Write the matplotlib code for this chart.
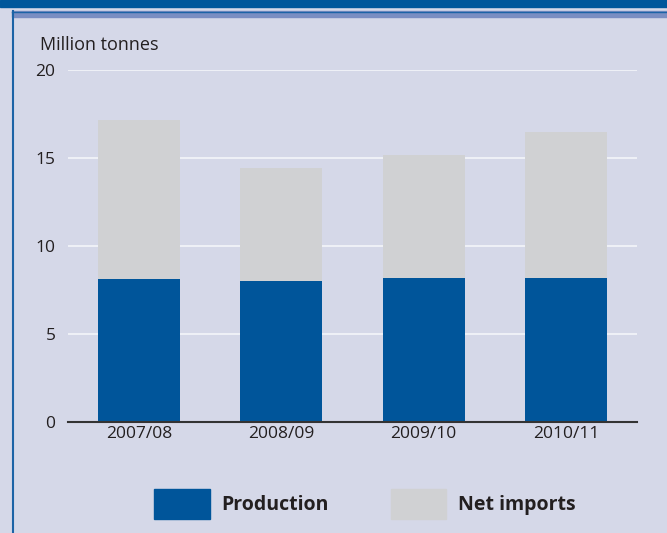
import matplotlib.pyplot as plt
import matplotlib.patches as mpatches
import numpy as np

years = ["2007/08", "2008/09", "2009/10", "2010/11"]
production = [8.1, 8.0, 8.2, 8.2]
net_imports = [9.05, 6.45, 6.95, 8.25]

bg = "#d5d8e8"
blue = "#00559a"
grey = "#d0d1d3"

plt.rcParams["font.family"] = ["Open Sans", "DejaVu Sans"]

fig = plt.figure(figsize=(6.67, 5.33), dpi=100, facecolor=bg)

# header bands and left rule
fig.patches.append(mpatches.Rectangle((0, 1 - 7 / 533), 1, 7 / 533, transform=fig.transFigure,
                                      color="#00579b", zorder=0))
fig.patches.append(mpatches.Rectangle((12 / 667, 1 - 17 / 533), 1, 6 / 533, transform=fig.transFigure,
                                      color="#7a8ec2", zorder=0))
fig.lines.append(plt.Line2D([12.5 / 667, 12.5 / 667], [0, 1 - 11 / 533], transform=fig.transFigure,
                            color="#1c63a6", lw=1.5))
fig.lines.append(plt.Line2D([12 / 667, 1], [1 - 11.5 / 533, 1 - 11.5 / 533], transform=fig.transFigure,
                            color="#1c63a6", lw=1))

ax = fig.add_axes([68 / 667, 1 - 422 / 533, (637 - 68) / 667, (422 - 70) / 533])
ax.set_facecolor(bg)

x = np.arange(len(years))
ax.bar(x, production, width=0.575, color=blue, zorder=3)
ax.bar(x, net_imports, bottom=production, width=0.575, color=grey, zorder=3)

ax.set_xlim(-0.5, 3.5)
ax.set_ylim(0, 20)
ax.set_yticks([0, 5, 10, 15, 20])
ax.set_xticks(x)
ax.set_xticklabels(years)
for y in [5, 10, 15, 20]:
    ax.axhline(y, color="#f4f5fa", lw=1.2, zorder=1)
ax.axhline(0, color="#333333", lw=1.5, zorder=4, clip_on=False)

for s in ax.spines.values():
    s.set_visible(False)
ax.tick_params(length=0, labelsize=12.5, colors="#231f20", pad=9)
ax.tick_params(axis="x", pad=3)

fig.text(40 / 667, 1 - 45 / 533, "Million tonnes", fontsize=13, color="#231f20", va="center")

handles = [mpatches.Patch(color=blue, label="Production"),
           mpatches.Patch(color=grey, label="Net imports")]
leg = fig.legend(handles=handles, loc="center", bbox_to_anchor=(365 / 667, 1 - 504 / 533), ncol=2,
                 frameon=False, handlelength=2.85, handleheight=2.0, columnspacing=3.2,
                 handletextpad=0.6, prop={"weight": "bold", "size": 14})
for t in leg.get_texts():
    t.set_color("#231f20")

fig.savefig("out.png", dpi=100, facecolor=bg)
